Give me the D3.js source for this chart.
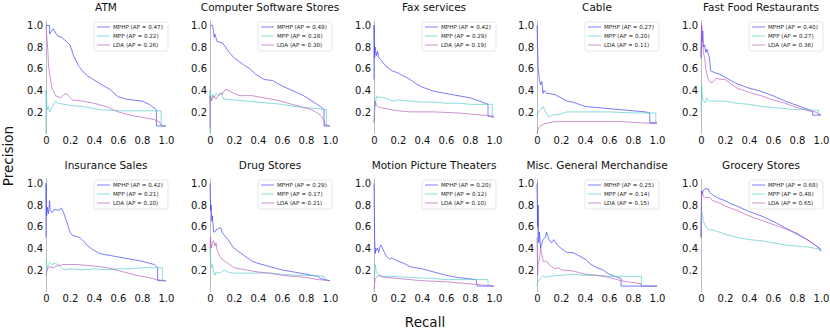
<!DOCTYPE html>
<html><head><meta charset="utf-8">
<script src="https://cdn.jsdelivr.net/npm/d3@7"></script>
<style>body{margin:0;background:#fff}svg{display:block;font-family:"DejaVu Sans",sans-serif}</style>
</head><body><svg id="c" width="830" height="330"></svg>
<script>
const categories = ["ATM","Computer Software Stores","Fax services","Cable","Fast Food Restaurants",
  "Insurance Sales","Drug Stores","Motion Picture Theaters","Misc. General Merchandise","Grocery Stores"];
const seriesNames = ["MPHP","MPP","LDA"];
const apMPHP = [0.47,0.49,0.42,0.27,0.40,0.42,0.29,0.20,0.25,0.68];
const apMPP  = [0.22,0.28,0.29,0.20,0.27,0.21,0.17,0.12,0.14,0.48];
const apLDA  = [0.26,0.30,0.19,0.11,0.36,0.20,0.21,0.10,0.15,0.65];
const xTicks = [0,0.2,0.4,0.6,0.8,1.0];
const yTicks = [0.2,0.4,0.6,0.8,1.0];

// [recall, precision] points
const mphpCurves = [
 [[0,1.0],[0.03,1.0],[0.03,0.92],[0.06,0.97],[0.08,0.93],[0.1,0.9],[0.13,0.89],[0.15,0.87],[0.18,0.84],[0.2,0.82],[0.23,0.72],[0.27,0.63],[0.31,0.57],[0.35,0.53],[0.38,0.51],[0.45,0.46],[0.53,0.41],[0.57,0.37],[0.6,0.34],[0.66,0.32],[0.72,0.31],[0.8,0.3],[0.86,0.27],[0.92,0.22],[0.92,0.07],[1.0,0.07]],
 [[0,1.0],[0.02,1.0],[0.03,0.95],[0.035,0.89],[0.04,0.92],[0.06,0.85],[0.1,0.84],[0.13,0.8],[0.16,0.75],[0.2,0.7],[0.25,0.66],[0.3,0.62],[0.33,0.6],[0.38,0.55],[0.45,0.5],[0.52,0.49],[0.6,0.44],[0.68,0.4],[0.78,0.35],[0.85,0.3],[0.92,0.25],[0.95,0.22],[0.95,0.07],[1.0,0.07]],
 [[0,0.5],[0,1.0],[0.005,0.7],[0.01,0.8],[0.02,0.72],[0.03,0.76],[0.04,0.7],[0.06,0.68],[0.1,0.62],[0.15,0.58],[0.2,0.56],[0.25,0.53],[0.3,0.5],[0.35,0.46],[0.4,0.43],[0.45,0.41],[0.5,0.39],[0.6,0.37],[0.7,0.35],[0.8,0.33],[0.88,0.3],[0.95,0.27],[0.95,0.16],[1.0,0.15]],
 [[0,1.0],[0.005,0.8],[0.01,0.6],[0.02,0.5],[0.03,0.45],[0.04,0.48],[0.05,0.37],[0.06,0.4],[0.08,0.37],[0.1,0.37],[0.15,0.36],[0.2,0.33],[0.25,0.3],[0.3,0.29],[0.35,0.27],[0.4,0.25],[0.5,0.24],[0.6,0.23],[0.7,0.22],[0.8,0.21],[0.9,0.2],[0.94,0.19],[0.94,0.1],[1.0,0.1]],
 [[0,0.7],[0.005,1.0],[0.01,0.85],[0.015,0.95],[0.02,0.8],[0.03,0.82],[0.04,0.75],[0.05,0.78],[0.07,0.7],[0.08,0.58],[0.1,0.57],[0.15,0.55],[0.2,0.52],[0.3,0.46],[0.4,0.42],[0.5,0.39],[0.6,0.35],[0.7,0.3],[0.8,0.26],[0.9,0.22],[0.93,0.2],[0.93,0.17],[1.0,0.17]],
 [[0,0.5],[0,1.0],[0.005,0.7],[0.01,0.78],[0.02,0.72],[0.03,0.84],[0.035,0.75],[0.05,0.73],[0.07,0.76],[0.1,0.75],[0.13,0.77],[0.15,0.72],[0.18,0.62],[0.2,0.55],[0.22,0.52],[0.28,0.5],[0.3,0.48],[0.35,0.42],[0.4,0.38],[0.45,0.35],[0.5,0.34],[0.6,0.32],[0.7,0.3],[0.8,0.28],[0.9,0.25],[0.93,0.22],[0.93,0.1],[1.0,0.1]],
 [[0,1.0],[0.005,0.75],[0.01,0.8],[0.015,0.65],[0.02,0.7],[0.03,0.55],[0.04,0.55],[0.05,0.57],[0.07,0.58],[0.09,0.59],[0.1,0.55],[0.12,0.52],[0.15,0.48],[0.18,0.43],[0.2,0.4],[0.25,0.36],[0.3,0.32],[0.35,0.28],[0.4,0.26],[0.5,0.23],[0.6,0.2],[0.7,0.18],[0.8,0.16],[0.9,0.14],[0.92,0.12],[1.0,0.1]],
 [[0,1.0],[0.005,0.5],[0.01,0.35],[0.015,0.4],[0.02,0.38],[0.03,0.4],[0.04,0.36],[0.05,0.42],[0.06,0.43],[0.07,0.4],[0.1,0.33],[0.13,0.3],[0.15,0.31],[0.2,0.28],[0.25,0.26],[0.3,0.23],[0.4,0.21],[0.5,0.18],[0.6,0.15],[0.7,0.13],[0.85,0.11],[0.86,0.05],[1.0,0.05]],
 [[0,1.0],[0.005,0.6],[0.01,0.8],[0.015,0.45],[0.02,0.55],[0.03,0.4],[0.05,0.48],[0.07,0.5],[0.08,0.55],[0.1,0.48],[0.12,0.45],[0.14,0.48],[0.17,0.43],[0.2,0.4],[0.25,0.36],[0.3,0.36],[0.35,0.33],[0.4,0.3],[0.45,0.25],[0.5,0.22],[0.55,0.2],[0.6,0.16],[0.65,0.14],[0.7,0.12],[0.7,0.05],[1.0,0.05]],
 [[0,0.5],[0.005,0.93],[0.01,0.9],[0.02,0.94],[0.04,0.95],[0.06,0.95],[0.07,0.92],[0.1,0.89],[0.15,0.86],[0.2,0.84],[0.25,0.81],[0.3,0.79],[0.4,0.74],[0.5,0.7],[0.6,0.65],[0.7,0.59],[0.8,0.53],[0.9,0.47],[0.95,0.43],[0.99,0.4],[1.0,0.37]]
];
const mppCurves = [
 [[0,0.0],[0,0.4],[0.01,0.22],[0.02,0.25],[0.03,0.2],[0.05,0.24],[0.08,0.3],[0.1,0.28],[0.15,0.27],[0.2,0.26],[0.3,0.25],[0.4,0.23],[0.45,0.22],[0.6,0.21],[0.8,0.21],[0.96,0.21],[0.96,0.07],[1.0,0.07]],
 [[0,0.0],[0,0.4],[0.01,0.3],[0.02,0.36],[0.03,0.33],[0.05,0.37],[0.07,0.35],[0.1,0.38],[0.11,0.32],[0.2,0.31],[0.3,0.3],[0.4,0.29],[0.5,0.28],[0.6,0.27],[0.7,0.25],[0.8,0.24],[0.9,0.23],[0.97,0.22],[0.97,0.07],[1.0,0.07]],
 [[0,0.1],[0.005,0.3],[0.01,0.25],[0.02,0.35],[0.03,0.33],[0.05,0.34],[0.08,0.33],[0.12,0.32],[0.15,0.3],[0.2,0.31],[0.3,0.3],[0.4,0.29],[0.5,0.29],[0.6,0.28],[0.7,0.28],[0.8,0.27],[0.985,0.27],[0.985,0.16],[1.0,0.15]],
 [[0,0.15],[0.01,0.2],[0.03,0.22],[0.05,0.25],[0.07,0.2],[0.1,0.15],[0.12,0.17],[0.2,0.18],[0.25,0.2],[0.4,0.2],[0.6,0.2],[0.8,0.19],[0.99,0.19],[0.99,0.1],[1.0,0.1]],
 [[0,0.2],[0.005,0.45],[0.01,0.35],[0.02,0.3],[0.04,0.29],[0.05,0.33],[0.07,0.3],[0.1,0.3],[0.2,0.3],[0.3,0.28],[0.4,0.27],[0.5,0.25],[0.6,0.24],[0.7,0.23],[0.8,0.22],[0.9,0.22],[0.98,0.21],[0.98,0.17],[1.0,0.17]],
 [[0,0.3],[0.01,0.2],[0.02,0.25],[0.03,0.27],[0.05,0.25],[0.07,0.26],[0.1,0.25],[0.15,0.2],[0.2,0.21],[0.3,0.2],[0.4,0.21],[0.5,0.2],[0.6,0.21],[0.7,0.21],[0.8,0.22],[0.97,0.22],[0.97,0.1],[1.0,0.1]],
 [[0,0.4],[0.005,0.28],[0.01,0.22],[0.02,0.25],[0.03,0.18],[0.04,0.15],[0.05,0.18],[0.08,0.17],[0.12,0.2],[0.15,0.18],[0.2,0.17],[0.3,0.17],[0.4,0.17],[0.5,0.17],[0.6,0.16],[0.7,0.15],[0.8,0.15],[0.95,0.14],[0.96,0.11],[1.0,0.1]],
 [[0,0.1],[0.01,0.25],[0.02,0.18],[0.04,0.15],[0.08,0.14],[0.15,0.14],[0.3,0.13],[0.5,0.12],[0.6,0.11],[0.7,0.11],[0.95,0.11],[0.95,0.06],[1.0,0.05]],
 [[0,0.05],[0.01,0.1],[0.03,0.12],[0.05,0.15],[0.07,0.13],[0.1,0.14],[0.2,0.15],[0.3,0.16],[0.4,0.15],[0.5,0.15],[0.6,0.14],[0.87,0.14],[0.87,0.05],[1.0,0.05]],
 [[0,0.5],[0.005,0.75],[0.01,0.72],[0.02,0.65],[0.04,0.6],[0.06,0.57],[0.1,0.57],[0.15,0.55],[0.2,0.53],[0.3,0.5],[0.4,0.48],[0.5,0.47],[0.6,0.45],[0.7,0.43],[0.8,0.42],[0.9,0.41],[1.0,0.39]]
];
const ldaCurves = [
 [[0,1.0],[0.01,0.85],[0.015,0.78],[0.02,0.65],[0.03,0.55],[0.05,0.42],[0.08,0.35],[0.12,0.33],[0.15,0.36],[0.17,0.37],[0.22,0.31],[0.3,0.3],[0.4,0.28],[0.5,0.25],[0.6,0.2],[0.7,0.17],[0.8,0.15],[0.9,0.13],[0.95,0.1],[0.96,0.07],[1.0,0.07]],
 [[0,0.05],[0,0.35],[0.01,0.3],[0.03,0.35],[0.05,0.32],[0.08,0.37],[0.1,0.36],[0.13,0.41],[0.17,0.39],[0.2,0.37],[0.25,0.35],[0.35,0.35],[0.45,0.33],[0.55,0.31],[0.65,0.28],[0.75,0.25],[0.85,0.22],[0.92,0.17],[0.95,0.12],[0.96,0.08],[1.0,0.07]],
 [[0,0.1],[0.01,0.3],[0.02,0.26],[0.03,0.25],[0.05,0.24],[0.1,0.23],[0.2,0.21],[0.3,0.2],[0.5,0.2],[0.7,0.19],[0.9,0.17],[1.0,0.16]],
 [[0,0.0],[0.01,0.05],[0.03,0.07],[0.06,0.09],[0.1,0.1],[0.15,0.11],[0.3,0.11],[0.5,0.11],[0.7,0.11],[0.85,0.1],[1.0,0.09]],
 [[0,0.7],[0.005,1.0],[0.01,0.9],[0.02,0.75],[0.03,0.7],[0.04,0.6],[0.05,0.55],[0.06,0.5],[0.08,0.47],[0.1,0.48],[0.13,0.51],[0.17,0.5],[0.2,0.5],[0.25,0.46],[0.3,0.42],[0.4,0.38],[0.5,0.35],[0.6,0.31],[0.7,0.28],[0.8,0.24],[0.9,0.21],[0.95,0.2],[1.0,0.17]],
 [[0,0.15],[0.01,0.2],[0.03,0.23],[0.06,0.22],[0.1,0.24],[0.15,0.25],[0.25,0.25],[0.35,0.24],[0.45,0.23],[0.55,0.21],[0.65,0.18],[0.75,0.15],[0.85,0.13],[0.92,0.11],[1.0,0.1]],
 [[0,0.4],[0.005,0.5],[0.01,0.4],[0.02,0.45],[0.03,0.47],[0.04,0.42],[0.05,0.45],[0.06,0.38],[0.08,0.33],[0.1,0.3],[0.15,0.26],[0.2,0.22],[0.3,0.2],[0.4,0.18],[0.5,0.17],[0.6,0.15],[0.7,0.14],[0.8,0.13],[0.9,0.11],[1.0,0.1]],
 [[0,0.02],[0.01,0.12],[0.04,0.15],[0.06,0.14],[0.1,0.13],[0.2,0.12],[0.4,0.1],[0.6,0.09],[0.8,0.07],[0.9,0.06],[1.0,0.05]],
 [[0,0.5],[0.005,0.15],[0.01,0.25],[0.02,0.3],[0.03,0.4],[0.04,0.35],[0.05,0.28],[0.08,0.28],[0.1,0.25],[0.15,0.21],[0.18,0.22],[0.2,0.2],[0.3,0.19],[0.4,0.16],[0.5,0.15],[0.6,0.13],[0.7,0.1],[0.87,0.07],[0.87,0.05],[1.0,0.05]],
 [[0,0.5],[0.005,0.9],[0.01,0.92],[0.02,0.88],[0.04,0.87],[0.07,0.87],[0.1,0.84],[0.15,0.82],[0.2,0.79],[0.3,0.75],[0.4,0.7],[0.5,0.66],[0.6,0.62],[0.7,0.58],[0.8,0.54],[0.9,0.47],[0.95,0.43],[1.0,0.38]]
];

const colors = ["rgba(60,60,255,0.75)","rgba(80,205,200,0.75)","rgba(185,90,190,0.75)"];
const colX = [46,210,374,537,701];
const rowY = [20,178];
const W = 120, H = 113.5;

const svg = d3.select("#c");
const x = d3.scaleLinear().domain([0,1]).range([0,W]);
const y = d3.scaleLinear().domain([0,1.05]).range([H,0]);
const line = d3.line().x(d=>x(d[0])).y(d=>y(d[1]));

categories.forEach((cat,i)=>{
  const g = svg.append("g").attr("transform",`translate(${colX[i%5]},${rowY[Math.floor(i/5)]})`);
  g.append("text").attr("x",W/2).attr("y",-9).attr("text-anchor","middle")
   .attr("font-size",10.5).attr("fill","#111").text(cat);
  // axes (labels only)
  const xa = g.append("g").attr("transform",`translate(0,${H})`)
    .call(d3.axisBottom(x).tickValues(xTicks).tickSize(0).tickPadding(3)
      .tickFormat(d=>d===0?"0":d3.format(".1f")(d)));
  xa.select(".domain").remove();
  const ya = g.append("g").call(d3.axisLeft(y).tickValues(yTicks).tickSize(0).tickPadding(3).tickFormat(d3.format(".1f")));
  ya.select(".domain").attr("stroke","#aaa").attr("stroke-width",0.8);
  g.selectAll(".tick text").attr("font-size",10).attr("fill","#111").attr("font-family","DejaVu Sans");
  const curves = [mphpCurves[i], mppCurves[i], ldaCurves[i]];
  curves.forEach((c,k)=>{
    g.append("path").attr("d",line(c)).attr("fill","none").attr("stroke",colors[k]).attr("stroke-width",0.9);
  });
  // legend
  const aps = [apMPHP[i],apMPP[i],apLDA[i]];
  const lg = g.append("g").attr("transform",`translate(${W-72},2)`);
  lg.append("rect").attr("width",74).attr("height",29).attr("rx",2)
    .attr("fill","rgba(255,255,255,0.85)").attr("stroke","#ddd").attr("stroke-width",0.7);
  seriesNames.forEach((n,k)=>{
    const yy = 5 + k*9;
    lg.append("line").attr("x1",3).attr("x2",16).attr("y1",yy).attr("y2",yy)
      .attr("stroke",colors[k]).attr("stroke-width",0.9);
    lg.append("text").attr("x",19).attr("y",yy+2).attr("font-size",5.6).attr("fill","#222")
      .text(`${n} (AP = ${aps[k].toFixed(2)})`);
  });
});

svg.append("text").attr("transform","translate(13,156) rotate(-90)").attr("text-anchor","middle")
  .attr("font-size",13.5).attr("fill","#111").text("Precision");
svg.append("text").attr("x",425).attr("y",327).attr("text-anchor","middle")
  .attr("font-size",13.5).attr("fill","#111").text("Recall");
</script></body></html>
